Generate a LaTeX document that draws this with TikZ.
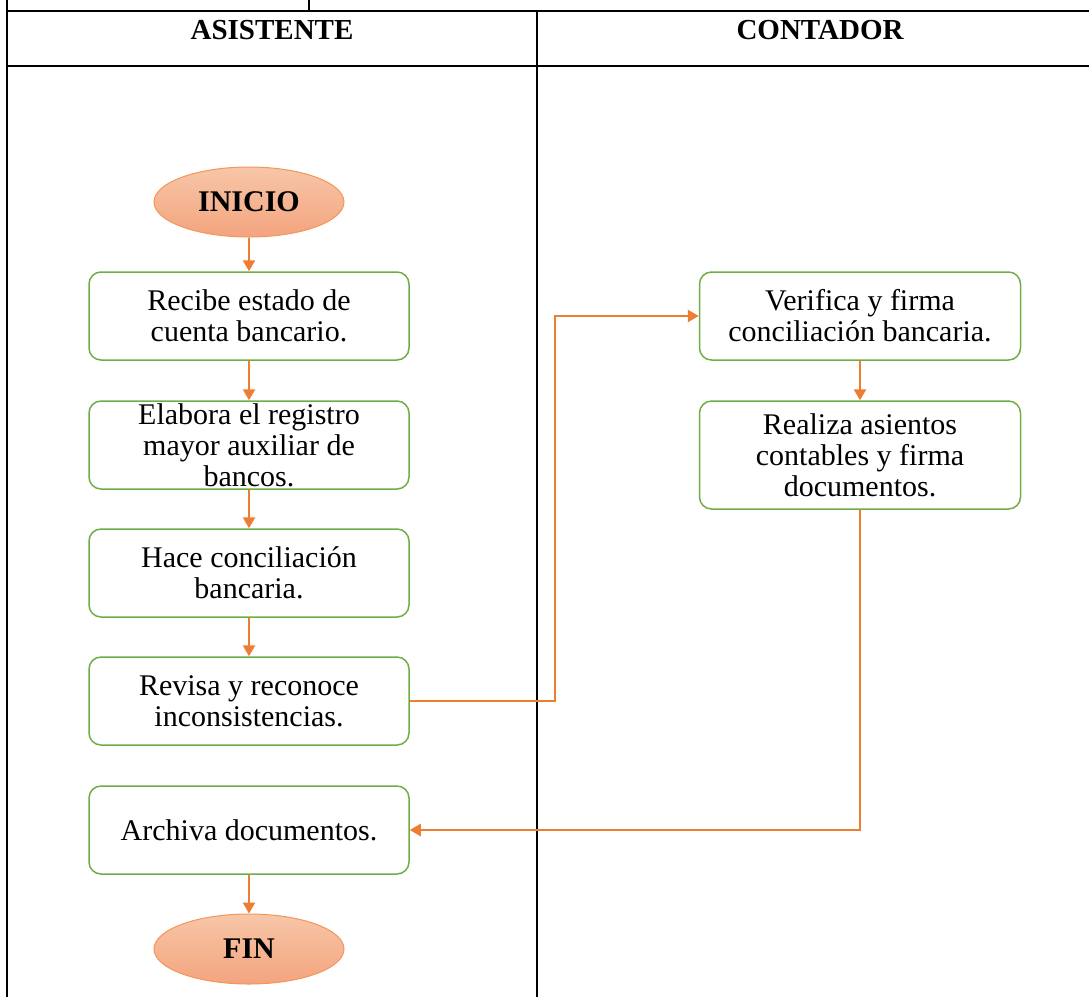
\documentclass[tikz,border=0pt]{standalone}
\usepackage{fontspec}
\setmainfont{Liberation Serif}
\usepackage{tikz}
\usetikzlibrary{arrows.meta,shapes.geometric}

\definecolor{flecha}{HTML}{ED7D31}
\definecolor{borde}{HTML}{70AD47}
\definecolor{claro}{HTML}{F7C6A8}
\definecolor{salmon}{HTML}{F4A47E}

\begin{document}
\begin{tikzpicture}[->,>={Triangle[length=11pt,width=12pt,fill=flecha]},x=1pt,y=-1pt,
                    line width=2pt]
  \tikzstyle{paso}=[draw=borde,line width=1.5pt,rounded corners=12pt,
                    minimum width=320pt,minimum height=88pt,inner sep=0pt,
                    align=center,font=\fontsize{30}{31}\selectfont]
  \tikzstyle{terminal}=[ellipse,draw=flecha!80,line width=1pt,
                    top color=claro,bottom color=salmon,
                    minimum width=190pt,minimum height=70pt,inner sep=0pt,
                    font=\fontsize{30}{31}\selectfont\bfseries]
  \tikzstyle{carril}=[font=\fontsize{29}{31}\selectfont\bfseries]
  \tikzstyle{linea}=[-,draw=black,line width=2pt]
  \tikzstyle{union}=[draw=flecha,line width=2.5pt]

  \useasboundingbox (0,0) rectangle (1089,997);

  % tabla
  \draw[linea] (7,0) -- (7,997);
  \draw[linea] (309,0) -- (309,11);
  \draw[linea] (7,11) -- (1089,11);
  \draw[linea] (7,66) -- (1089,66);
  \draw[linea] (537,11) -- (537,997);

  \node[carril] (asis) at (272,30) {ASISTENTE};
  \node[carril] (cont) at (820,30) {CONTADOR};

  % asistente
  \node[terminal] (inicio) at (249,202) {INICIO};
  \node[paso] (recibe)  at (249,316) {Recibe estado de\\cuenta bancario.};
  \node[paso] (elabora) at (249,445) {Elabora el registro\\mayor auxiliar de\\bancos.};
  \node[paso] (hace)    at (249,573) {Hace conciliación\\bancaria.};
  \node[paso] (revisa)  at (249,701) {Revisa y reconoce\\inconsistencias.};
  \node[paso] (archiva) at (249,830) {Archiva documentos.};
  \node[terminal] (fin) at (249,949) {FIN};

  % contador
  \node[paso,minimum width=321pt] (verifica) at (860,316) {Verifica y firma\\conciliación bancaria.};
  \node[paso,minimum width=321pt,minimum height=108pt] (realiza) at (860,455)
       {Realiza asientos\\contables y firma\\documentos.};

  \coordinate (quiebre) at (555,500);

  \path[union]
        (inicio)   edge (recibe)
        (recibe)   edge (elabora)
        (elabora)  edge (hace)
        (hace)     edge (revisa)
        (archiva)  edge (fin)
        (verifica) edge (realiza);

  \draw[union] (revisa.east) -- (revisa.east -| quiebre) |- (verifica.west);
  \draw[union] (realiza.south) |- (archiva.east);

\end{tikzpicture}
\end{document}
